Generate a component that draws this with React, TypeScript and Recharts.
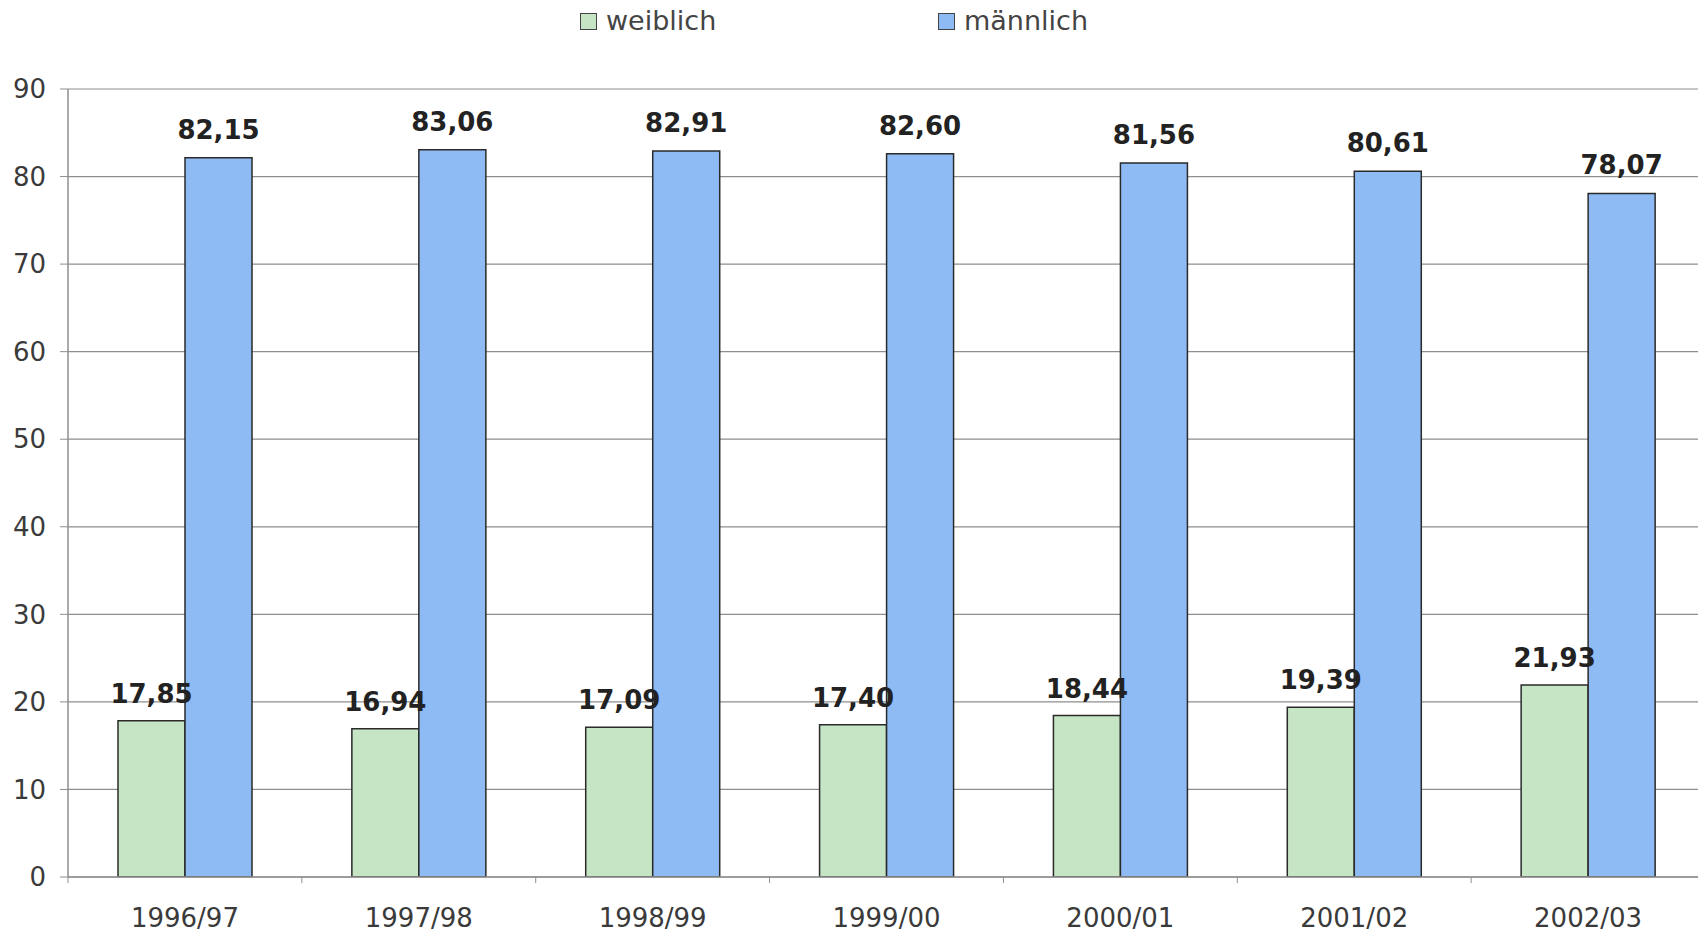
import React from "react";
import {
  BarChart,
  Bar,
  XAxis,
  YAxis,
  CartesianGrid,
  Legend,
  LabelList,
} from "recharts";

const jahre = ["1996/97", "1997/98", "1998/99", "1999/00", "2000/01", "2001/02", "2002/03"];
const weiblich = [17.85, 16.94, 17.09, 17.4, 18.44, 19.39, 21.93];
const maennlich = [82.15, 83.06, 82.91, 82.6, 81.56, 80.61, 78.07];
const yTicks = [0, 10, 20, 30, 40, 50, 60, 70, 80, 90];
const legendOrder = ["weiblich", "maennlich"];

const data = jahre.map((jahr, i) => ({
  jahr,
  weiblich: weiblich[i],
  maennlich: maennlich[i],
}));

const FONT = "Verdana, 'DejaVu Sans', sans-serif";
const GRID = "#8e8e8e";
const GREEN = "#c6e5c4";
const BLUE = "#8fbbf4";

const fmt = (v: number) => v.toFixed(2).replace(".", ",");

function valueText(cx: number, baseline: number, v: number, key: string) {
  return (
    <text
      key={key}
      x={cx}
      y={baseline}
      textAnchor="middle"
      fontFamily={FONT}
      fontWeight="bold"
      fontSize={26}
      fill="#222"
    >
      {fmt(v)}
    </text>
  );
}

// label above the blue bar
function MaleLabel(props: any) {
  const vb = props.viewBox ?? props;
  const { x, y, width } = vb;
  return valueText(x + width / 2, y - 19, props.value, "m");
}

// green label drawn from the blue bar's layer so it sits on top of the blue bar
function FemaleLabel(props: any) {
  const vb = props.viewBox ?? props;
  const { x, y, width, height } = vb;
  const base = y + height;
  const blue = maennlich[props.index];
  const gy = base - (props.value * height) / blue;
  return valueText(x - width / 2, gy - 18, props.value, "w");
}

function XTick(props: any) {
  const { x, y, payload } = props;
  const half = payload?.offset ?? 0;
  const axisY = y - 32;
  return (
    <g>
      {half > 0 && (
        <line x1={x - half} x2={x - half} y1={axisY} y2={axisY + 6} stroke={GRID} />
      )}
      <text
        x={x}
        y={y}
        dy="0.71em"
        textAnchor="middle"
        fontFamily={FONT}
        fontSize={26}
        fill="#3a3a3a"
      >
        {payload.value}
      </text>
    </g>
  );
}

function LegendBox(props: any) {
  const items = [...(props.payload ?? [])].sort(
    (a: any, b: any) => legendOrder.indexOf(a.dataKey) - legendOrder.indexOf(b.dataKey)
  );
  const lefts = [580, 938];
  return (
    <div style={{ position: "relative", height: 89, width: 1698 }}>
      {items.map((it: any, i: number) => (
        <div key={it.value} style={{ position: "absolute", left: lefts[i], top: 0 }}>
          <span
            style={{
              position: "absolute",
              left: 0,
              top: 13,
              width: 15,
              height: 15,
              background: it.color,
              border: "1.5px solid #444",
            }}
          />
          <span
            style={{
              position: "absolute",
              left: 26,
              top: 3,
              fontFamily: FONT,
              fontSize: 27,
              color: "#444",
              whiteSpace: "nowrap",
              lineHeight: "36px",
            }}
          >
            {it.value}
          </span>
        </div>
      ))}
    </div>
  );
}

export default function App() {
  return (
    <div
      style={{
        position: "absolute",
        left: 0,
        top: 0,
        width: 1698,
        height: 932,
        overflow: "hidden",
        background: "#fff",
      }}
    >
      <BarChart
        width={1705}
        height={932}
        data={data}
        margin={{ top: 0, right: 0, bottom: 0, left: 0 }}
        barGap={0}
      >
        <Legend verticalAlign="top" align="left" content={LegendBox} />
        <CartesianGrid vertical={false} stroke={GRID} strokeWidth={1.2} />
        <XAxis
          dataKey="jahr"
          height={55}
          axisLine={{ stroke: GRID, strokeWidth: 1.5 }}
          tickLine={false}
          tickSize={6}
          tickMargin={26}
          tick={<XTick />}
          interval={0}
        />
        <YAxis
          width={68}
          domain={[0, 90]}
          ticks={yTicks}
          axisLine={{ stroke: GRID, strokeWidth: 1.5 }}
          tickLine={{ stroke: GRID }}
          tickSize={8}
          tickMargin={14}
          tick={{ fontFamily: FONT, fontSize: 26, fill: "#3a3a3a" }}
          allowDataOverflow
        />
        <Bar
          dataKey="weiblich"
          name="weiblich"
          fill={GREEN}
          stroke="#2a2a2a"
          strokeWidth={1.5}
          barSize={67}
          isAnimationActive={false}
        />
        <Bar
          dataKey="maennlich"
          name="männlich"
          fill={BLUE}
          stroke="#2a2a2a"
          strokeWidth={1.5}
          barSize={67}
          isAnimationActive={false}
        >
          <LabelList dataKey="maennlich" content={MaleLabel} />
          <LabelList dataKey="weiblich" content={FemaleLabel} />
        </Bar>
      </BarChart>
    </div>
  );
}
